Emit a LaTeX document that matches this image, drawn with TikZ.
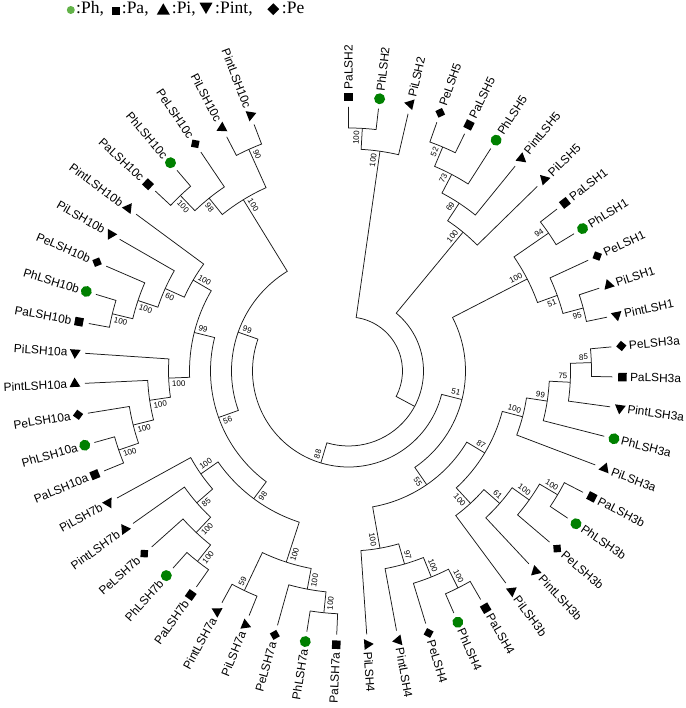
\documentclass[tikz,border=0pt]{standalone}
\usepackage{fontspec}
\setmainfont{Liberation Serif}
\newfontfamily\lsans{Liberation Sans}
\usetikzlibrary{shapes.geometric}
\definecolor{dotgreen}{RGB}{0,128,0}
\definecolor{leggreen}{RGB}{98,178,72}
\def\tStp{6.52}
\def\leafR{264}
\def\hStp{21}
\def\markR{274}
\def\labR{281.5}
\tikzset{
  branch/.style={draw=black!90, line width=0.75pt},
  leaflab/.style={font=\lsans\fontsize{11.9}{12.5}\selectfont, inner sep=0pt},
  bslab/.style={font=\lsans\fontsize{8}{9}\selectfont, inner xsep=1pt, inner ysep=2.6pt},
  legtext/.style={font=\fontsize{17.5}{18}\selectfont, inner sep=0pt, anchor=base west},
  mksq/.style={rectangle, fill=black, minimum size=8.5pt, inner sep=0pt},
  mkdot/.style={circle, fill=dotgreen, minimum size=11pt, inner sep=0pt},
  mktri/.style={regular polygon, regular polygon sides=3, fill=black, minimum size=12.5pt, inner sep=0pt},
  mkitri/.style={mktri, shape border rotate=180},
  mkdia/.style={diamond, fill=black, minimum size=10.5pt, inner sep=0pt},
}
\newcommand\leaf[3]{%
  \pgfmathsetmacro\tLa{90-\tStp*#2}%
  \expandafter\xdef\csname A@#1\endcsname{\tLa}%
  \coordinate (#1) at (\tLa:\leafR pt);%
  \node[#3, rotate=\tLa] (m#1) at (\tLa:\markR pt) {};%
  \pgfmathtruncatemacro\tLeft{cos(\tLa)<-0.01}%
  \ifnum\tLeft=1\relax
    \pgfmathsetmacro\tRot{\tLa+180}%
    \node[leaflab, rotate=\tRot, anchor=east] (l#1) at (\tLa:\labR pt) {#1};%
  \else
    \node[leaflab, rotate=\tLa, anchor=west] (l#1) at (\tLa:\labR pt) {#1};%
  \fi}
\newcommand\inode[6]{%
  \pgfmathsetmacro\tAone{\csname A@#3\endcsname}%
  \pgfmathsetmacro\tAtwo{\csname A@#4\endcsname}%
  \pgfmathsetmacro\tNa{(\tAone+\tAtwo)/2}%
  \pgfmathsetmacro\tNr{\leafR-\hStp*#2}%
  \expandafter\xdef\csname A@#1\endcsname{\tNa}%
  \coordinate (#1) at (\tNa:\tNr pt);%
  \draw[branch] (#3) -- (\tAone:\tNr pt) arc[start angle=\tAone, end angle=\tAtwo, radius=\tNr pt] -- (#4);%
  \if\relax\detokenize{#5}\relax\else
    \pgfmathtruncatemacro\tLeft{cos(\tNa)<-0.01}%
    \pgfmathsetmacro\tBr{\tNr-2}%
    \ifnum\tLeft=1\relax
      \pgfmathsetmacro\tRot{\tNa+180}%
      \ifnum#6=1\relax\def\tAnc{north west}\else\def\tAnc{south west}\fi
    \else
      \let\tRot\tNa
      \ifnum#6=1\relax\def\tAnc{south east}\else\def\tAnc{north east}\fi
    \fi
    \node[bslab, rotate=\tRot, anchor=\tAnc] (b#1) at (\tNa:\tBr pt) {#5};%
  \fi}
\begin{document}
\begin{tikzpicture}[x=1pt,y=1pt]
\useasboundingbox (0,0) rectangle (685,708);
% legend
\node[circle, fill=leggreen, minimum size=8pt, inner sep=0pt] (lg1) at (70.8,698) {};
\node[legtext] (lt1) at (76,694) {:Ph,};
\node[rectangle, fill=black, minimum size=8pt, inner sep=0pt] (lg2) at (116,696.8) {};
\node[legtext] (lt2) at (121.7,694) {:Pa,};
\node[regular polygon, regular polygon sides=3, fill=black, minimum size=15pt, inner sep=0pt] (lg3) at (163.3,697.2) {};
\node[legtext] (lt3) at (171.7,694) {:Pi,};
\node[regular polygon, regular polygon sides=3, shape border rotate=180, fill=black, minimum size=15pt, inner sep=0pt] (lg4) at (206,701.5) {};
\node[legtext] (lt4) at (215,694) {:Pint,};
\node[diamond, fill=black, minimum width=12pt, minimum height=12pt, inner sep=0pt] (lg5) at (273.3,698.8) {};
\node[legtext] (lt5) at (281.7,694) {:Pe};
% tree
\begin{scope}[shift={(348.5,337)}]
\leaf{PaLSH2}{0}{mksq}
\leaf{PhLSH2}{1}{mkdot}
\leaf{PiLSH2}{2}{mktri}
\leaf{PeLSH5}{3}{mkdia}
\leaf{PaLSH5}{4}{mksq}
\leaf{PhLSH5}{5}{mkdot}
\leaf{PintLSH5}{6}{mkitri}
\leaf{PiLSH5}{7}{mktri}
\leaf{PaLSH1}{8}{mksq}
\leaf{PhLSH1}{9}{mkdot}
\leaf{PeLSH1}{10}{mkdia}
\leaf{PiLSH1}{11}{mktri}
\leaf{PintLSH1}{12}{mkitri}
\leaf{PeLSH3a}{13}{mkdia}
\leaf{PaLSH3a}{14}{mksq}
\leaf{PintLSH3a}{15}{mkitri}
\leaf{PhLSH3a}{16}{mkdot}
\leaf{PiLSH3a}{17}{mktri}
\leaf{PaLSH3b}{18}{mksq}
\leaf{PhLSH3b}{19}{mkdot}
\leaf{PeLSH3b}{20}{mkdia}
\leaf{PintLSH3b}{21}{mkitri}
\leaf{PiLSH3b}{22}{mktri}
\leaf{PaLSH4}{23}{mksq}
\leaf{PhLSH4}{24}{mkdot}
\leaf{PeLSH4}{25}{mkdia}
\leaf{PintLSH4}{26}{mkitri}
\leaf{PiLSH4}{27}{mktri}
\leaf{PaLSH7a}{28}{mksq}
\leaf{PhLSH7a}{29}{mkdot}
\leaf{PeLSH7a}{30}{mkdia}
\leaf{PiLSH7a}{31}{mktri}
\leaf{PintLSH7a}{32}{mkitri}
\leaf{PaLSH7b}{33}{mksq}
\leaf{PhLSH7b}{34}{mkdot}
\leaf{PeLSH7b}{35}{mkdia}
\leaf{PintLSH7b}{36}{mkitri}
\leaf{PiLSH7b}{37}{mktri}
\leaf{PaLSH10a}{38}{mksq}
\leaf{PhLSH10a}{39}{mkdot}
\leaf{PeLSH10a}{40}{mkdia}
\leaf{PintLSH10a}{41}{mkitri}
\leaf{PiLSH10a}{42}{mktri}
\leaf{PaLSH10b}{43}{mksq}
\leaf{PhLSH10b}{44}{mkdot}
\leaf{PeLSH10b}{45}{mkdia}
\leaf{PiLSH10b}{46}{mktri}
\leaf{PintLSH10b}{47}{mkitri}
\leaf{PaLSH10c}{48}{mksq}
\leaf{PhLSH10c}{49}{mkdot}
\leaf{PeLSH10c}{50}{mkdia}
\leaf{PiLSH10c}{51}{mktri}
\leaf{PintLSH10c}{52}{mkitri}
\inode{n2a}{1}{PaLSH2}{PhLSH2}{100}{1}
\inode{n2}{2}{n2a}{PiLSH2}{100}{1}
\inode{n5a}{1}{PeLSH5}{PaLSH5}{52}{1}
\inode{n5b}{2}{n5a}{PhLSH5}{73}{1}
\inode{n5c}{3}{n5b}{PintLSH5}{69}{1}
\inode{n5}{4}{n5c}{PiLSH5}{100}{1}
\inode{n1a}{1}{PaLSH1}{PhLSH1}{94}{1}
\inode{n1b}{1}{PiLSH1}{PintLSH1}{95}{-1}
\inode{n1c}{2}{PeLSH1}{n1b}{51}{-1}
\inode{n1}{3}{n1a}{n1c}{100}{1}
\inode{a1}{1}{PeLSH3a}{PaLSH3a}{85}{1}
\inode{a2}{2}{a1}{PintLSH3a}{75}{1}
\inode{a3}{3}{a2}{PhLSH3a}{99}{1}
\inode{n3a}{4}{a3}{PiLSH3a}{100}{1}
\inode{b1}{1}{PaLSH3b}{PhLSH3b}{100}{1}
\inode{b2}{2}{b1}{PeLSH3b}{100}{1}
\inode{b3}{3}{b2}{PintLSH3b}{61}{1}
\inode{n3b}{4}{b3}{PiLSH3b}{100}{-1}
\inode{n3}{5}{n3a}{n3b}{87}{1}
\inode{c1}{1}{PaLSH4}{PhLSH4}{100}{1}
\inode{c2}{2}{c1}{PeLSH4}{100}{1}
\inode{c3}{3}{c2}{PintLSH4}{97}{1}
\inode{n4}{4}{c3}{PiLSH4}{100}{-1}
\inode{n55}{6}{n3}{n4}{55}{-1}
\inode{n51}{7}{n1}{n55}{51}{1}
\inode{d1}{1}{PaLSH7a}{PhLSH7a}{100}{1}
\inode{d2}{2}{d1}{PeLSH7a}{100}{1}
\inode{d3}{1}{PiLSH7a}{PintLSH7a}{59}{-1}
\inode{n7a}{3}{d2}{d3}{100}{1}
\inode{e1}{1}{PaLSH7b}{PhLSH7b}{100}{1}
\inode{e2}{2}{e1}{PeLSH7b}{100}{1}
\inode{e3}{3}{e2}{PintLSH7b}{85}{1}
\inode{n7b}{4}{e3}{PiLSH7b}{100}{-1}
\inode{n7}{5}{n7a}{n7b}{98}{1}
\inode{f1}{1}{PaLSH10a}{PhLSH10a}{100}{1}
\inode{f2}{2}{f1}{PeLSH10a}{100}{1}
\inode{f3}{3}{f2}{PintLSH10a}{100}{1}
\inode{n10a}{4}{f3}{PiLSH10a}{100}{1}
\inode{g1}{1}{PaLSH10b}{PhLSH10b}{100}{1}
\inode{g2}{2}{g1}{PeLSH10b}{100}{1}
\inode{g3}{3}{g2}{PiLSH10b}{60}{1}
\inode{n10b}{4}{g3}{PintLSH10b}{100}{-1}
\inode{n10ab}{5}{n10a}{n10b}{99}{-1}
\inode{n56}{6}{n7}{n10ab}{56}{1}
\inode{h1}{1}{PaLSH10c}{PhLSH10c}{100}{1}
\inode{h2}{2}{h1}{PeLSH10c}{98}{1}
\inode{h3}{1}{PiLSH10c}{PintLSH10c}{90}{-1}
\inode{n10c}{3}{h2}{h3}{100}{-1}
\inode{n99i}{7}{n56}{n10c}{99}{-1}
\inode{n88}{8}{n51}{n99i}{88}{-1}
\inode{B}{9}{n5}{n88}{}{0}
\inode{root}{10}{n2}{B}{}{0}
\end{scope}
\end{tikzpicture}
\end{document}
